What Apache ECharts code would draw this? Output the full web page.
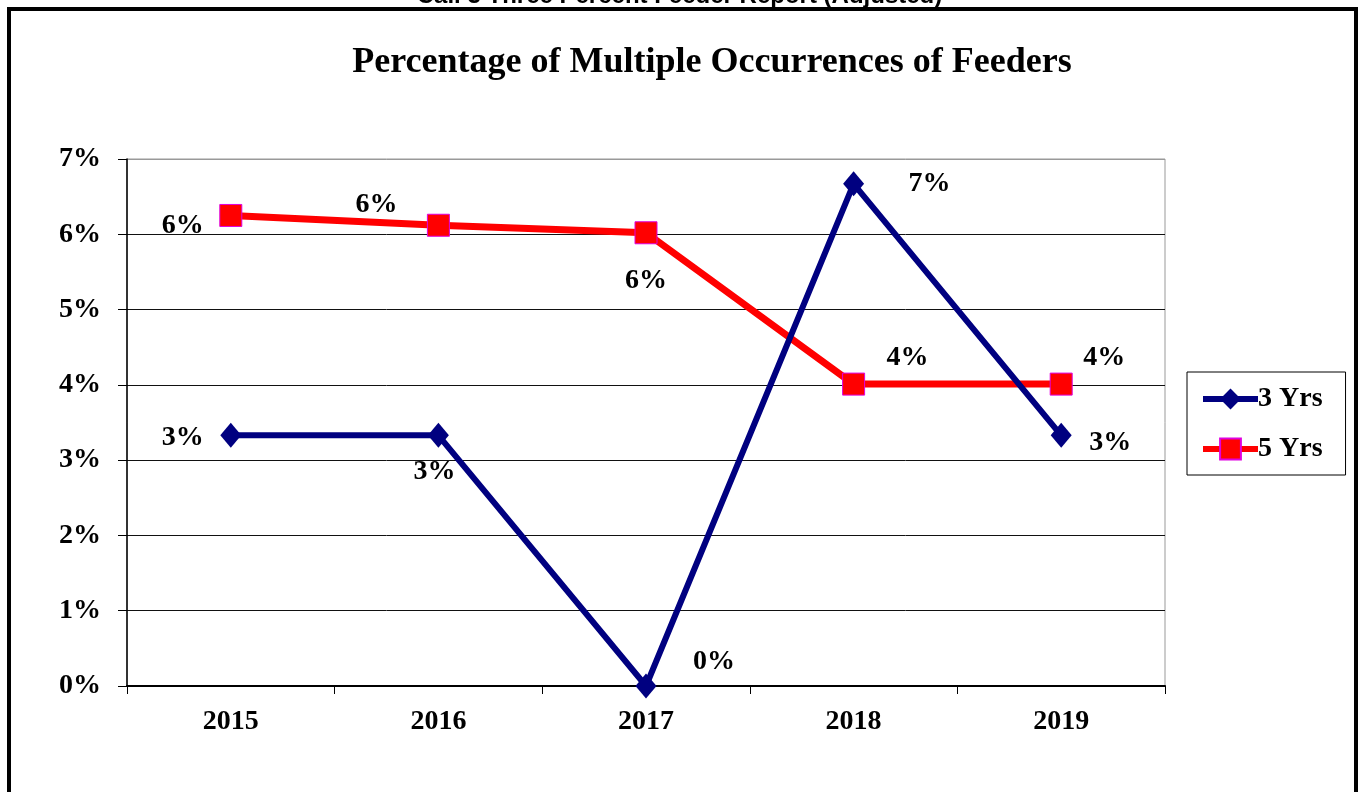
<!DOCTYPE html>
<html><head><meta charset="utf-8">
<script src="https://cdn.jsdelivr.net/npm/echarts@6/dist/echarts.min.js"></script>
<style>html,body{margin:0;padding:0;background:#fff}#c{width:1359px;height:792px}</style>
</head><body><div id="c"></div>
<script>
const categories = ['2015', '2016', '2017', '2018', '2019'];
const yrs3 = [3.33, 3.33, 0, 6.67, 3.33];
const yrs5 = [6.25, 6.12, 6.02, 4.01, 4.01];
const seriesNames = ['3 Yrs', '5 Yrs'];
const yTicks = [0, 1, 2, 3, 4, 5, 6, 7];
const chartTitle = 'Percentage of Multiple Occurrences of Feeders';
const pageTitle = 'Call 3 Three Percent Feeder Report (Adjusted)';
// label offsets (style only)
const off3 = [[-48, 2], [-4, 36], [68, -24], [76, 0], [49, 7]];
const off5 = [[-48, 10], [-62, -20], [0, 48], [54, -26], [43, -26]];

const serif = '"Liberation Serif", "Times New Roman", serif';
const lblStyle = {fontFamily: serif, fontWeight: 'bold', fontSize: 28, color: '#000'};

function mk(vals, offs) {
  return vals.map((v, i) => ({
    value: v,
    label: {show: true, position: 'inside', offset: offs[i], formatter: p => Math.round(p.value) + '%', ...lblStyle}
  }));
}

const chart = echarts.init(document.getElementById('c'), null, {renderer: 'canvas'});
chart.setOption({
  animation: false,
  backgroundColor: '#fff',
  graphic: [
    {type: 'rect', shape: {x: 9, y: 9, width: 1347, height: 800}, style: {fill: 'none', stroke: '#000', lineWidth: 4}, z: 100},
    {type: 'text', left: 'center', top: -16, style: {text: pageTitle, font: 'bold 24px "Liberation Sans", Arial, sans-serif', fill: '#000'}, z: 100},
    {type: 'text', x: 712, y: 63, style: {text: chartTitle, font: 'bold 36px ' + serif, fill: '#000', textAlign: 'center', textVerticalAlign: 'middle'}}
  ],
  grid: {left: 127, right: 194, top: 159, bottom: 106, show: true, borderColor: '#999', borderWidth: 1, backgroundColor: 'transparent'},
  legend: {
    orient: 'vertical', left: 1187, top: 372,
    padding: [13, 23, 12, 13], itemGap: 22, itemWidth: 55, itemHeight: 26,
    borderColor: '#000', borderWidth: 1,
    lineStyle: {width: 6},
    textStyle: {fontFamily: serif, fontWeight: 'bold', fontSize: 28, color: '#000', padding: [0, 0, 0, -5]},
    data: seriesNames
  },
  xAxis: {
    type: 'category', data: categories, boundaryGap: true,
    axisLine: {lineStyle: {color: '#000', width: 2}},
    axisTick: {show: true, length: 8, lineStyle: {color: '#000', width: 1}},
    axisLabel: {margin: 22, ...lblStyle}
  },
  yAxis: {
    type: 'value', min: 0, max: 7, interval: 1,
    axisLine: {show: true, lineStyle: {color: '#000', width: 1.5}},
    axisTick: {show: true, length: 9, lineStyle: {color: '#000'}},
    axisLabel: {margin: 26, formatter: v => v + '%', ...lblStyle},
    splitLine: {show: true, lineStyle: {color: yTicks.map((t, i) => i === yTicks.length - 1 ? '#999' : '#111'), width: 1}}
  },
  series: [
    {name: seriesNames[0], type: 'line', data: mk(yrs3, off3), symbol: 'diamond', symbolSize: [21, 25],
     lineStyle: {color: '#000080', width: 6}, itemStyle: {color: '#000080'}, z: 3},
    {name: seriesNames[1], type: 'line', data: mk(yrs5, off5), symbol: 'rect', symbolSize: 22,
     lineStyle: {color: '#ff0000', width: 7}, itemStyle: {color: '#ff0000', borderColor: '#e000e0', borderWidth: 1}, z: 2}
  ]
});
</script></body></html>
